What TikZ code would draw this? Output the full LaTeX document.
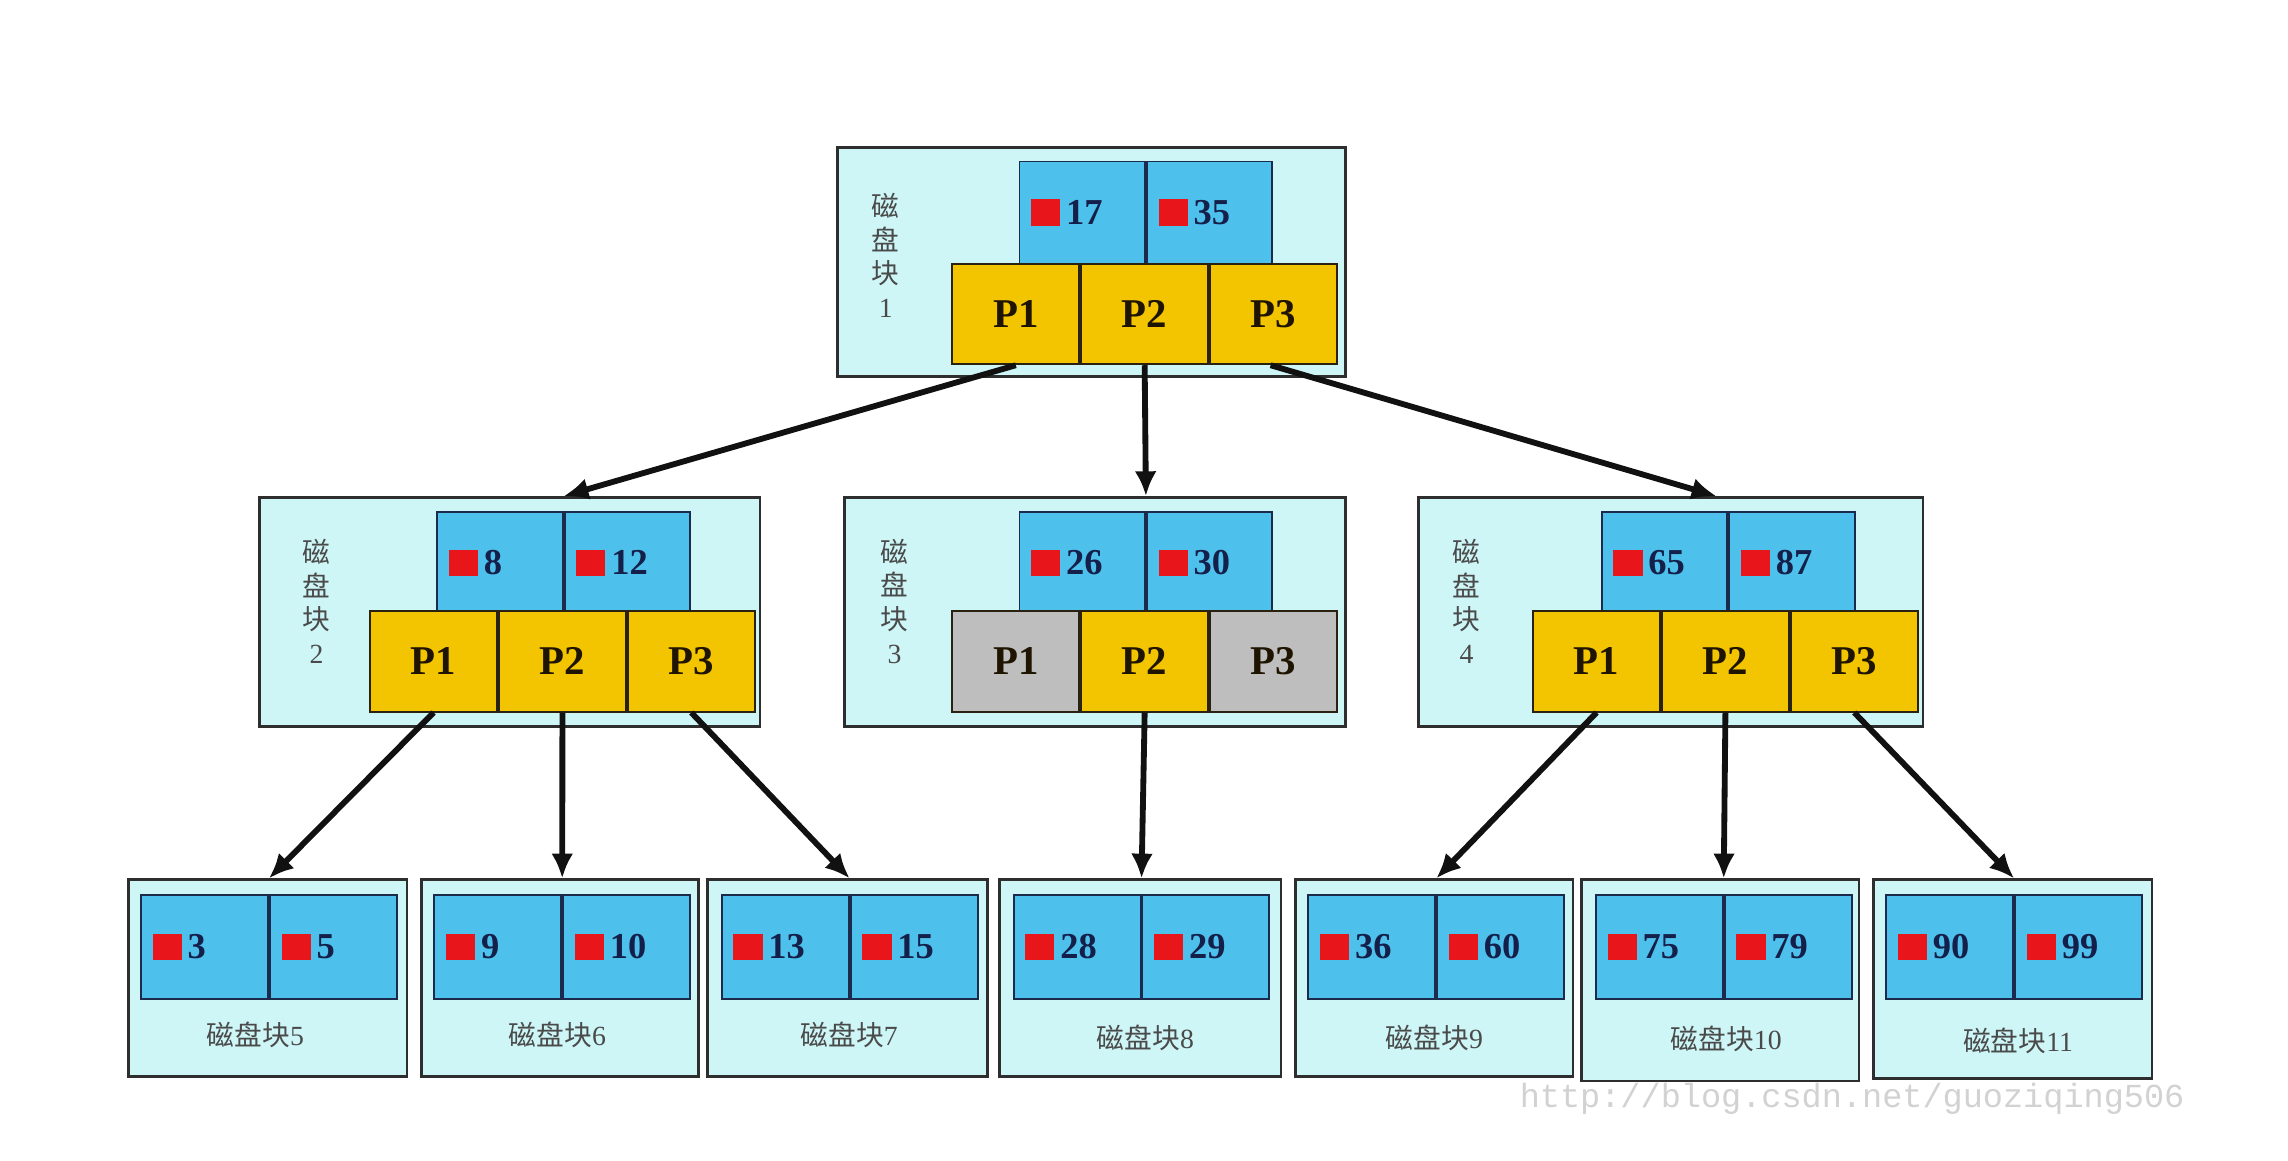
\documentclass[tikz,border=0pt]{standalone}
\usepackage{fontspec}
\setmainfont{Liberation Serif}
\newfontfamily\cjk{Noto Sans CJK SC}
\newfontfamily\wmfont{Liberation Mono}
\usetikzlibrary{arrows.meta}
\definecolor{outerfill}{HTML}{CEF6F7}
\definecolor{outerline}{HTML}{2E2E2E}
\definecolor{keyblue}{HTML}{4DC0EC}
\definecolor{cellline}{HTML}{1C2A4C}
\definecolor{pyellow}{HTML}{F2C500}
\definecolor{pgrey}{HTML}{BEBEBE}
\definecolor{pline}{HTML}{2A2210}
\definecolor{keyred}{HTML}{E8161B}
\definecolor{numcol}{HTML}{14204A}
\definecolor{ptext}{HTML}{1E1400}
\definecolor{labcol}{HTML}{4A4A4A}
\definecolor{arrowcol}{HTML}{111111}
\definecolor{wmcol}{HTML}{D2D2D2}
\newcommand{\rsq}{\textcolor{keyred}{\rule[-1pt]{20pt}{18pt}}\hspace{4pt}}
\begin{document}
\begin{tikzpicture}[x=1pt,y=-1pt,
  outerbox/.style={draw=outerline, line width=1.8pt, fill=outerfill, anchor=north west, inner sep=0pt},
  keycell/.style={draw=cellline, line width=1.3pt, fill=keyblue, anchor=north west, minimum height=70pt, text width=70pt, inner xsep=8pt, inner ysep=0pt, align=left, font=\bfseries\fontsize{25}{25}\selectfont, text=numcol},
  leafcell/.style={keycell, text width=71pt, minimum height=71pt},
  pcell/.style={draw=pline, line width=1.3pt, fill=pyellow, anchor=north west, minimum width=87pt, minimum height=69pt, inner sep=0pt, font=\bfseries\fontsize{28}{28}\selectfont, text=ptext},
  greycell/.style={pcell, fill=pgrey},
  vlabel/.style={align=center, text=labcol, font=\cjk\fontsize{19}{23}\selectfont},
  blabel/.style={text=labcol, font=\cjk\fontsize{19}{23}\selectfont},
  arrow/.style={-{Latex[length=17pt,width=15pt]}, line width=4pt, draw=arrowcol}]
\useasboundingbox[fill=white] (0,0) rectangle (1568,795);

% ---------- level 1 ----------
\node[outerbox, minimum width=348pt, minimum height=157pt] (b1) at (573,100) {};
\node[keycell] (k1a) at (698,110) {\rsq 17};
\node[keycell] (k1b) at (k1a.north east) {\rsq 35};
\node[pcell] (p1a) at (652,180) {P1};
\node[pcell] (p1b) at (p1a.north east) {P2};
\node[pcell] (p1c) at (p1b.north east) {P3};
\node[vlabel] (l1) at (607,175) {磁\\盘\\块\\{\rmfamily 1}};

% ---------- level 2 ----------
\node[outerbox, minimum width=343pt, minimum height=157pt] (b2) at (177,340) {};
\node[keycell] (k2a) at (299,350) {\rsq 8};
\node[keycell] (k2b) at (k2a.north east) {\rsq 12};
\node[pcell] (p2a) at (253,418) {P1};
\node[pcell] (p2b) at (p2a.north east) {P2};
\node[pcell] (p2c) at (p2b.north east) {P3};
\node[vlabel] (l2) at (217,412) {磁\\盘\\块\\{\rmfamily 2}};

\node[outerbox, minimum width=343pt, minimum height=157pt] (b3) at (578,340) {};
\node[keycell] (k3a) at (698,350) {\rsq 26};
\node[keycell] (k3b) at (k3a.north east) {\rsq 30};
\node[greycell] (p3a) at (652,418) {P1};
\node[pcell] (p3b) at (p3a.north east) {P2};
\node[greycell] (p3c) at (p3b.north east) {P3};
\node[vlabel] (l3) at (613,412) {磁\\盘\\块\\{\rmfamily 3}};

\node[outerbox, minimum width=346pt, minimum height=157pt] (b4) at (971,340) {};
\node[keycell] (k4a) at (1097,350) {\rsq 65};
\node[keycell] (k4b) at (k4a.north east) {\rsq 87};
\node[pcell] (p4a) at (1050,418) {P1};
\node[pcell] (p4b) at (p4a.north east) {P2};
\node[pcell] (p4c) at (p4b.north east) {P3};
\node[vlabel] (l4) at (1005,412) {磁\\盘\\块\\{\rmfamily 4}};

% ---------- level 3 ----------
\node[outerbox, minimum width=191pt, minimum height=135pt] (b5) at (87,602) {};
\node[leafcell] (k5a) at (96,613) {\rsq 3};
\node[leafcell] (k5b) at (k5a.north east) {\rsq 5};
\node[blabel] (n5) at (175,709) {磁盘块{\rmfamily 5}};

\node[outerbox, minimum width=190pt, minimum height=135pt] (b6) at (288,602) {};
\node[leafcell] (k6a) at (297,613) {\rsq 9};
\node[leafcell] (k6b) at (k6a.north east) {\rsq 10};
\node[blabel] (n6) at (382,709) {磁盘块{\rmfamily 6}};

\node[outerbox, minimum width=192pt, minimum height=135pt] (b7) at (484,602) {};
\node[leafcell] (k7a) at (494,613) {\rsq 13};
\node[leafcell] (k7b) at (k7a.north east) {\rsq 15};
\node[blabel] (n7) at (582,709) {磁盘块{\rmfamily 7}};

\node[outerbox, minimum width=193pt, minimum height=135pt] (b8) at (684,602) {};
\node[leafcell] (k8a) at (694,613) {\rsq 28};
\node[leafcell] (k8b) at (k8a.north east) {\rsq 29};
\node[blabel] (n8) at (785,711) {磁盘块{\rmfamily 8}};

\node[outerbox, minimum width=190pt, minimum height=135pt] (b9) at (887,602) {};
\node[leafcell] (k9a) at (896,613) {\rsq 36};
\node[leafcell] (k9b) at (k9a.north east) {\rsq 60};
\node[blabel] (n9) at (983,711) {磁盘块{\rmfamily 9}};

\node[outerbox, minimum width=190pt, minimum height=138pt] (b10) at (1083,602) {};
\node[leafcell] (k10a) at (1093,613) {\rsq 75};
\node[leafcell] (k10b) at (k10a.north east) {\rsq 79};
\node[blabel] (n10) at (1183,712) {磁盘块{\rmfamily 10}};

\node[outerbox, minimum width=191pt, minimum height=136pt] (b11) at (1283,602) {};
\node[leafcell] (k11a) at (1292,613) {\rsq 90};
\node[leafcell] (k11b) at (k11a.north east) {\rsq 99};
\node[blabel] (n11) at (1383,713) {磁盘块{\rmfamily 11}};

% ---------- arrows ----------
\draw[arrow] (p1a.south) -- (k2a.north east |- b2.north);
\draw[arrow] (p1b.south) -- (k3a.north east |- b3.north);
\draw[arrow] ([xshift=-2pt]p1c.south) -- ([xshift=-8pt]k4a.north east |- b4.north);
\draw[arrow] (p2a.south) -- (k5a.north east |- b5.north);
\draw[arrow] (p2b.south) -- (k6a.north east |- b6.north);
\draw[arrow] (p2c.south) -- (k7a.north east |- b7.north);
\draw[arrow] (p3b.south) -- (k8a.north east |- b8.north);
\draw[arrow] (p4a.south) -- (k9a.north east |- b9.north);
\draw[arrow] (p4b.south) -- (k10a.north east |- b10.north);
\draw[arrow] (p4c.south) -- (k11a.north east |- b11.north);

% ---------- watermark ----------
\node[text=wmcol, font=\wmfont\fontsize{23}{23}\selectfont, anchor=west] (wm) at (1038,753) {http://blog.csdn.net/guoziqing506};
\end{tikzpicture}
\end{document}
